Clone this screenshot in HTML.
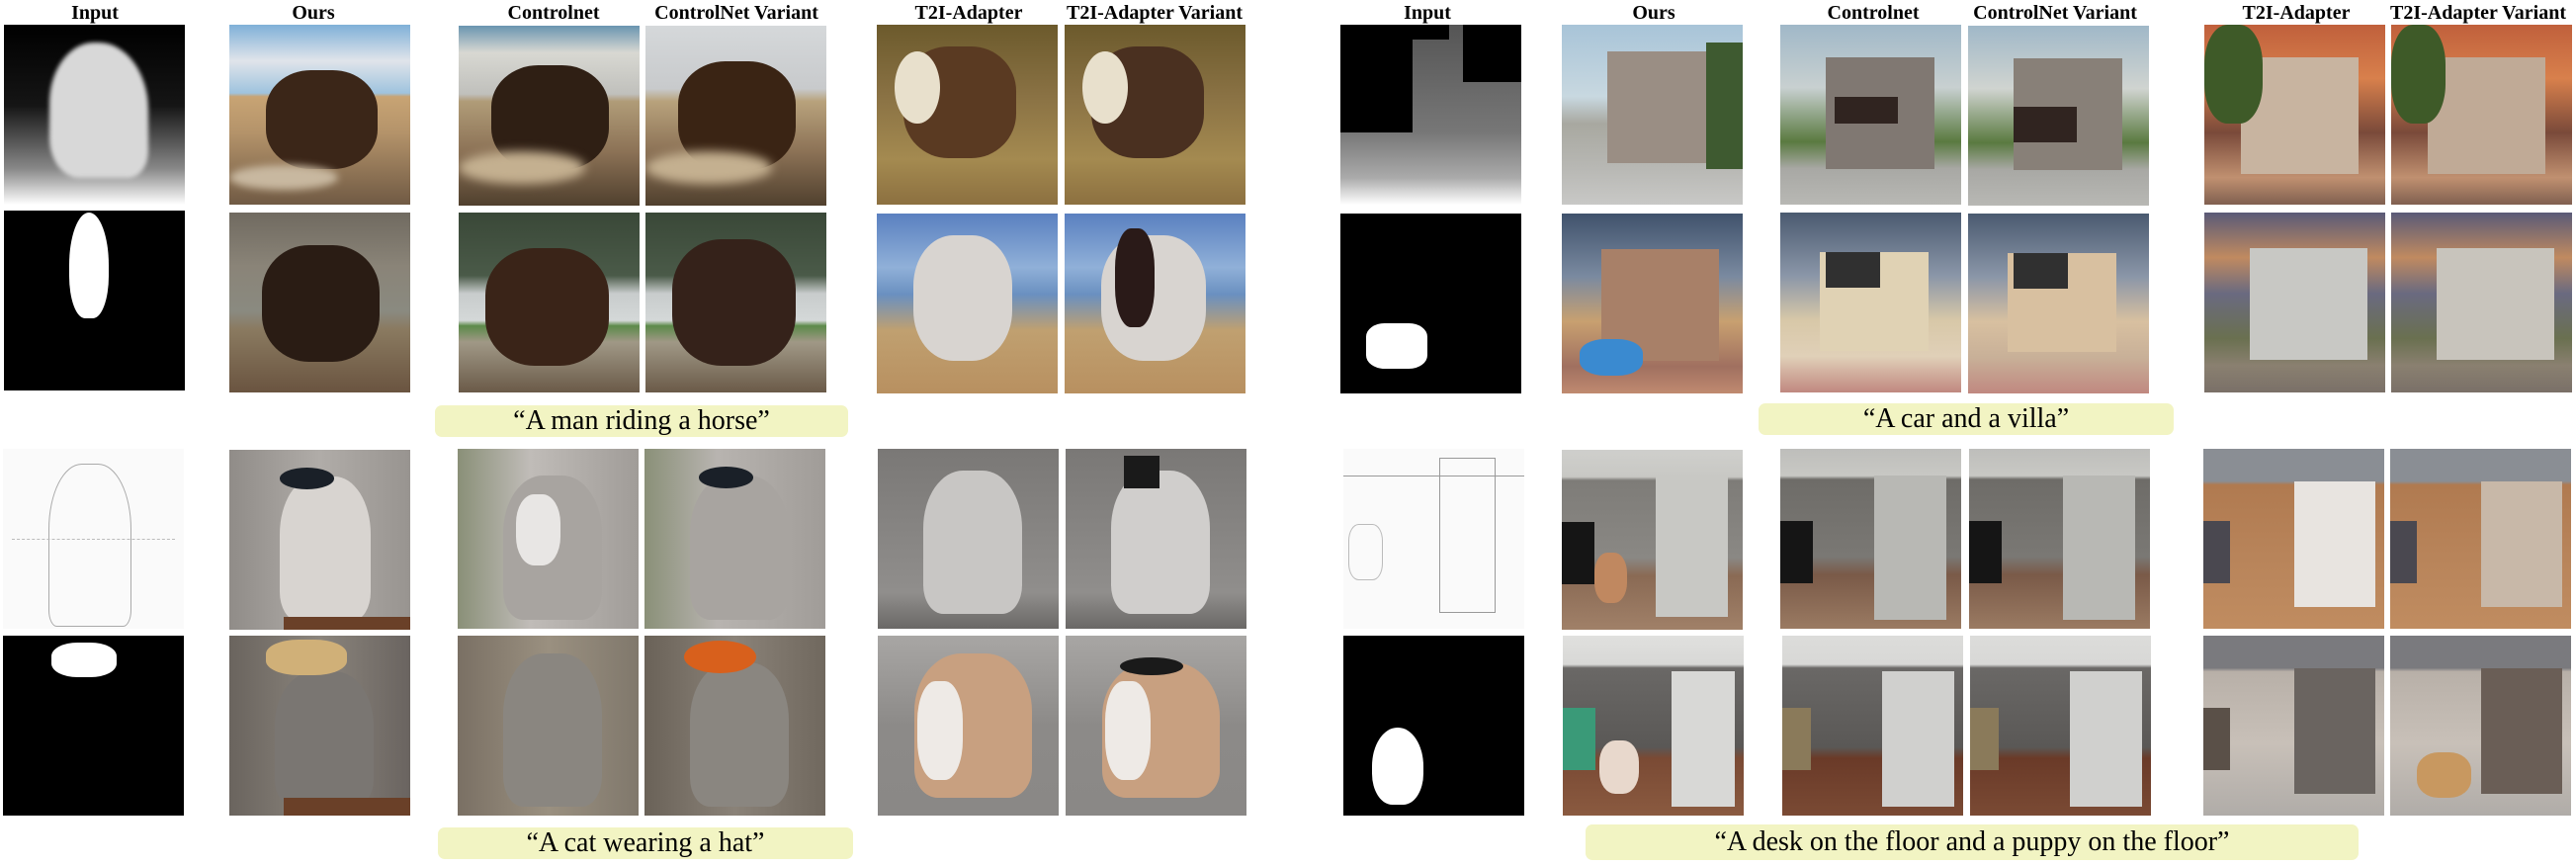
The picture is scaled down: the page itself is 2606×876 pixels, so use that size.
<!DOCTYPE html>
<html><head><meta charset="utf-8"><style>
body{margin:0;background:#fff;width:2606px;height:876px;position:relative;overflow:hidden;font-family:"Liberation Serif",serif}
.t{position:absolute;top:0;height:26px;line-height:26px;font-weight:bold;font-size:20px;transform:translateX(-50%);white-space:nowrap;color:#000}
.im{position:absolute;width:183px;height:182px;overflow:hidden}
.im div{position:absolute}
.cap{position:absolute;background:#f2f4c3;border-radius:7px;font-size:28px;text-align:center;color:#000;white-space:nowrap}
</style></head><body>
<!-- titles -->
<div class="t" style="left:96px">Input</div>
<div class="t" style="left:317px">Ours</div>
<div class="t" style="left:560px">Controlnet</div>
<div class="t" style="left:745px">ControlNet Variant</div>
<div class="t" style="left:980px">T2I-Adapter</div>
<div class="t" style="left:1168px">T2I-Adapter Variant</div>
<div class="t" style="left:1444px">Input</div>
<div class="t" style="left:1673px">Ours</div>
<div class="t" style="left:1895px">Controlnet</div>
<div class="t" style="left:2079px">ControlNet Variant</div>
<div class="t" style="left:2323px">T2I-Adapter</div>
<div class="t" style="left:2507px">T2I-Adapter Variant</div>

<!-- HORSE row 1 -->
<div class="im" style="left:4px;top:25px;background:linear-gradient(#000 0%,#151515 45%,#888 80%,#fff 100%)">
 <div style="left:25%;top:10%;width:55%;height:75%;background:#d8d8d8;border-radius:45% 50% 20% 30%;filter:blur(2px)"></div></div>
<div class="im" style="left:232px;top:25px;background:linear-gradient(#7fb0d8 0%,#e0e4ea 20%,#9fc3de 38%,#c8a474 40%,#b4936a 60%,#705a44 100%)">
 <div style="left:20%;top:25%;width:62%;height:55%;background:#3b2618;border-radius:40%"></div>
 <div style="left:0;top:78%;width:60%;height:14%;background:#c8b8a0;border-radius:50%;filter:blur(4px)"></div></div>
<div class="im" style="left:464px;top:26px;background:linear-gradient(#6a95b0 0%,#d8d8d2 15%,#c0c0bc 38%,#b09c78 42%,#8c7256 70%,#50402e 100%)">
 <div style="left:18%;top:22%;width:65%;height:58%;background:#2f1f14;border-radius:40%"></div>
 <div style="left:0;top:70%;width:70%;height:18%;background:#c4b090;border-radius:50%;filter:blur(5px)"></div></div>
<div class="im" style="left:653px;top:26px;background:linear-gradient(#d5d8da 0%,#c8cacc 35%,#b8a27c 42%,#8c7256 70%,#50402e 100%)">
 <div style="left:18%;top:20%;width:65%;height:60%;background:#3a2414;border-radius:40%"></div>
 <div style="left:0;top:70%;width:70%;height:18%;background:#c4b090;border-radius:50%;filter:blur(5px)"></div></div>
<div class="im" style="left:887px;top:25px;background:linear-gradient(#6c5a2c 0%,#8a7244 40%,#a48a50 75%,#8c7040 100%)">
 <div style="left:15%;top:12%;width:62%;height:62%;background:#5a3a22;border-radius:40%"></div>
 <div style="left:10%;top:15%;width:25%;height:40%;background:#e8e0cc;border-radius:50%"></div></div>
<div class="im" style="left:1077px;top:25px;background:linear-gradient(#6c5a2c 0%,#8a7244 40%,#a48a50 75%,#8c7040 100%)">
 <div style="left:15%;top:12%;width:62%;height:62%;background:#4a3020;border-radius:40%"></div>
 <div style="left:10%;top:15%;width:25%;height:40%;background:#e8e0cc;border-radius:50%"></div></div>
<!-- HORSE row 2 -->
<div class="im" style="left:4px;top:213px;background:#000">
 <div style="left:36%;top:1%;width:22%;height:59%;background:#fff;border-radius:50% 50% 40% 40%"></div></div>
<div class="im" style="left:232px;top:215px;background:linear-gradient(#706a60 0%,#8a8478 30%,#8a8a80 55%,#8a7a60 65%,#6a5440 100%)">
 <div style="left:18%;top:18%;width:65%;height:65%;background:#2a1c14;border-radius:40%"></div></div>
<div class="im" style="left:464px;top:215px;background:linear-gradient(#3a4838 0%,#4a5a48 35%,#c8cccc 45%,#d4d8d8 60%,#5c8a4a 63%,#a09886 72%,#6a5a48 100%)">
 <div style="left:15%;top:20%;width:68%;height:65%;background:#3a2418;border-radius:40%"></div></div>
<div class="im" style="left:653px;top:215px;background:linear-gradient(#3a4838 0%,#4a5a48 35%,#c8cccc 45%,#d4d8d8 60%,#5c8a4a 63%,#a09886 72%,#6a5a48 100%)">
 <div style="left:15%;top:15%;width:68%;height:70%;background:#35221a;border-radius:40%"></div></div>
<div class="im" style="left:887px;top:216px;background:linear-gradient(#5a80c0 0%,#90b0d8 30%,#6a90c0 45%,#c0a070 65%,#b89060 100%)">
 <div style="left:20%;top:12%;width:55%;height:70%;background:#d8d4d0;border-radius:40%"></div></div>
<div class="im" style="left:1077px;top:216px;background:linear-gradient(#5a80c0 0%,#90b0d8 30%,#6a90c0 45%,#c0a070 65%,#b89060 100%)">
 <div style="left:20%;top:12%;width:58%;height:70%;background:#d8d4d0;border-radius:40%"></div>
 <div style="left:28%;top:8%;width:22%;height:55%;background:#2a1a18;border-radius:40%"></div></div>
<div class="cap" style="left:440px;top:410px;width:418px;height:32px;line-height:32px">“A man riding a horse”</div>

<!-- VILLA row 1 -->
<div class="im" style="left:1356px;top:25px;background:linear-gradient(#555 0%,#777 60%,#aaa 85%,#fff 100%)">
 <div style="left:0;top:0;width:40%;height:60%;background:#000"></div>
 <div style="left:40%;top:0;width:20%;height:8%;background:#000"></div>
 <div style="left:68%;top:0;width:32%;height:32%;background:#000"></div></div>
<div class="im" style="left:1580px;top:25px;background:linear-gradient(#a8c4d8 0%,#c8d8e0 40%,#a8a8a0 55%,#b8b8b4 80%,#c8c8c6 100%)">
 <div style="left:25%;top:15%;width:60%;height:62%;background:#9a8e84"></div>
 <div style="left:80%;top:10%;width:20%;height:70%;background:#3e5a30"></div></div>
<div class="im" style="left:1801px;top:25px;background:linear-gradient(#a0b8c8 0%,#c8d0d0 35%,#5a7a40 65%,#a8a8a4 80%,#b8b8b4 100%)">
 <div style="left:25%;top:18%;width:60%;height:62%;background:#807872"></div>
 <div style="left:30%;top:40%;width:35%;height:15%;background:#302420"></div></div>
<div class="im" style="left:1991px;top:26px;background:linear-gradient(#a0b8c8 0%,#d0d4d0 35%,#5a7a40 65%,#a8a8a4 80%,#b8b8b4 100%)">
 <div style="left:25%;top:18%;width:60%;height:62%;background:#888078"></div>
 <div style="left:25%;top:45%;width:35%;height:20%;background:#302420"></div></div>
<div class="im" style="left:2230px;top:25px;background:linear-gradient(#c0603c 0%,#d8804c 30%,#7a4a3a 60%,#c09070 85%,#806050 100%)">
 <div style="left:20%;top:18%;width:65%;height:65%;background:#c8b4a0"></div>
 <div style="left:0;top:0;width:32%;height:55%;background:#3e5a28;border-radius:40%"></div></div>
<div class="im" style="left:2419px;top:25px;background:linear-gradient(#c0603c 0%,#d8804c 30%,#7a4a3a 60%,#c09070 85%,#806050 100%)">
 <div style="left:20%;top:18%;width:65%;height:65%;background:#c0aa96"></div>
 <div style="left:0;top:0;width:30%;height:55%;background:#3e5a28;border-radius:40%"></div></div>
<!-- VILLA row 2 -->
<div class="im" style="left:1356px;top:216px;background:#000">
 <div style="left:14%;top:61%;width:34%;height:25%;background:#fff;border-radius:30%"></div></div>
<div class="im" style="left:1580px;top:216px;background:linear-gradient(#40526c 0%,#7a8aa0 35%,#c8a070 60%,#a07060 85%,#c08a70 100%)">
 <div style="left:22%;top:20%;width:65%;height:62%;background:#a88068"></div>
 <div style="left:10%;top:70%;width:35%;height:20%;background:#3a8ad0;border-radius:40%"></div></div>
<div class="im" style="left:1801px;top:215px;background:linear-gradient(#4a5a70 0%,#8a96a8 35%,#d8c8a8 60%,#e0d0b8 80%,#c08880 100%)">
 <div style="left:22%;top:22%;width:60%;height:55%;background:#e0d2b4"></div>
 <div style="left:25%;top:22%;width:30%;height:20%;background:#303030"></div></div>
<div class="im" style="left:1991px;top:216px;background:linear-gradient(#4a5a70 0%,#8a96a8 35%,#d8c0a0 60%,#c8b098 80%,#c08880 100%)">
 <div style="left:22%;top:22%;width:60%;height:55%;background:#d8c0a0"></div>
 <div style="left:25%;top:22%;width:30%;height:20%;background:#303030"></div></div>
<div class="im" style="left:2230px;top:215px;background:linear-gradient(#5a5a78 0%,#c08a60 25%,#6a6a80 45%,#6a7050 70%,#8a8070 85%,#7a7068 100%)">
 <div style="left:25%;top:20%;width:65%;height:62%;background:#c8c8c4"></div></div>
<div class="im" style="left:2419px;top:215px;background:linear-gradient(#5a5a78 0%,#c08a60 25%,#6a6a80 45%,#6a7050 70%,#8a8070 85%,#7a7068 100%)">
 <div style="left:25%;top:20%;width:65%;height:62%;background:#c8c4bc"></div></div>
<div class="cap" style="left:1779px;top:408px;width:420px;height:32px;line-height:32px">“A car and a villa”</div>

<!-- CAT row 1 -->
<div class="im" style="left:3px;top:454px;background:#fafafa">
 <div style="left:25%;top:8%;width:45%;height:90%;border:1px solid #aaa;border-radius:40% 40% 10% 10%"></div>
 <div style="left:5%;top:50%;width:90%;height:45%;border-top:1px dashed #bbb"></div></div>
<div class="im" style="left:232px;top:455px;background:linear-gradient(90deg,#908c88,#b0aca8 50%,#989490)">
 <div style="left:28%;top:15%;width:50%;height:80%;background:#d8d4d0;border-radius:40% 40% 20% 20%"></div>
 <div style="left:28%;top:10%;width:30%;height:12%;background:#1a2028;border-radius:50%"></div>
 <div style="left:30%;top:93%;width:70%;height:7%;background:#6a4028"></div></div>
<div class="im" style="left:463px;top:454px;background:linear-gradient(90deg,#8a9078,#c0bcb8 40%,#a09c98)">
 <div style="left:25%;top:15%;width:55%;height:80%;background:#a8a4a0;border-radius:40% 40% 20% 20%"></div>
 <div style="left:32%;top:25%;width:25%;height:40%;background:#e8e6e4;border-radius:40%"></div></div>
<div class="im" style="left:652px;top:454px;background:linear-gradient(90deg,#8a9078,#b8b4b0 40%,#a09c98)">
 <div style="left:25%;top:15%;width:55%;height:80%;background:#a8a4a0;border-radius:40% 40% 20% 20%"></div>
 <div style="left:30%;top:10%;width:30%;height:12%;background:#1a2028;border-radius:50%"></div></div>
<div class="im" style="left:888px;top:454px;background:linear-gradient(#7a7876,#908e8c 80%,#6a6866)">
 <div style="left:25%;top:12%;width:55%;height:80%;background:#c8c6c4;border-radius:40% 40% 20% 20%"></div></div>
<div class="im" style="left:1078px;top:454px;background:linear-gradient(#7a7876,#908e8c 80%,#6a6866)">
 <div style="left:25%;top:12%;width:55%;height:80%;background:#d0cecc;border-radius:40% 40% 20% 20%"></div>
 <div style="left:32%;top:4%;width:20%;height:18%;background:#1a1a1a"></div></div>
<!-- CAT row 2 -->
<div class="im" style="left:3px;top:643px;background:#000">
 <div style="left:27%;top:4%;width:36%;height:19%;background:#fff;border-radius:40%"></div></div>
<div class="im" style="left:232px;top:643px;background:linear-gradient(90deg,#6a645e,#8a847c 50%,#6a6460)">
 <div style="left:25%;top:20%;width:55%;height:75%;background:#7a7672;border-radius:40% 40% 20% 20%"></div>
 <div style="left:20%;top:2%;width:45%;height:20%;background:#d0b078;border-radius:40%"></div>
 <div style="left:30%;top:90%;width:70%;height:10%;background:#6a4028"></div></div>
<div class="im" style="left:463px;top:643px;background:linear-gradient(90deg,#7a7064,#9a9080 50%,#80786c)">
 <div style="left:25%;top:10%;width:55%;height:85%;background:#8a8680;border-radius:40% 40% 20% 20%"></div></div>
<div class="im" style="left:652px;top:643px;background:linear-gradient(90deg,#6a6258,#8a8278 50%,#70685e)">
 <div style="left:25%;top:15%;width:55%;height:80%;background:#8a8680;border-radius:40% 40% 20% 20%"></div>
 <div style="left:22%;top:3%;width:40%;height:18%;background:#d8601c;border-radius:50%"></div></div>
<div class="im" style="left:888px;top:643px;background:linear-gradient(#a8a6a4,#8c8a88 50%,#8a8886)">
 <div style="left:20%;top:10%;width:65%;height:80%;background:#c8a080;border-radius:40% 40% 20% 20%"></div>
 <div style="left:22%;top:25%;width:25%;height:55%;background:#eeeae6;border-radius:40%"></div></div>
<div class="im" style="left:1078px;top:643px;background:linear-gradient(#a8a6a4,#8c8a88 50%,#8a8886)">
 <div style="left:20%;top:15%;width:65%;height:75%;background:#c8a080;border-radius:40% 40% 20% 20%"></div>
 <div style="left:22%;top:25%;width:25%;height:55%;background:#eeeae6;border-radius:40%"></div>
 <div style="left:30%;top:12%;width:35%;height:10%;background:#1a1a1a;border-radius:50%"></div></div>
<div class="cap" style="left:443px;top:837px;width:420px;height:32px;line-height:32px">“A cat wearing a hat”</div>

<!-- DESK row 1 -->
<div class="im" style="left:1359px;top:454px;background:#fafafa">
 <div style="left:0;top:15%;width:100%;height:1px;background:#999"></div>
 <div style="left:53%;top:5%;width:30%;height:85%;border:1px solid #999"></div>
 <div style="left:3%;top:42%;width:18%;height:30%;border:1px solid #bbb;border-radius:30%"></div></div>
<div class="im" style="left:1580px;top:455px;background:linear-gradient(#cfcfcc 0%,#c8c8c4 15%,#7e7c78 17%,#8a8884 60%,#8a6a54 70%,#a08068 100%)">
 <div style="left:52%;top:15%;width:40%;height:78%;background:#c8c8c4"></div>
 <div style="left:0;top:40%;width:18%;height:35%;background:#151515"></div>
 <div style="left:18%;top:57%;width:18%;height:28%;background:#c08860;border-radius:40%"></div></div>
<div class="im" style="left:1801px;top:454px;background:linear-gradient(#bebebb 0%,#c8c8c4 15%,#6e6c68 17%,#7a7874 60%,#7a5a48 70%,#9a7a62 100%)">
 <div style="left:52%;top:15%;width:40%;height:80%;background:#b8b8b4"></div>
 <div style="left:0;top:40%;width:18%;height:35%;background:#151515"></div></div>
<div class="im" style="left:1992px;top:454px;background:linear-gradient(#bebebb 0%,#c8c8c4 15%,#6e6c68 17%,#7a7874 60%,#7a5a48 70%,#9a7a62 100%)">
 <div style="left:52%;top:15%;width:40%;height:80%;background:#b8b8b4"></div>
 <div style="left:0;top:40%;width:18%;height:35%;background:#151515"></div></div>
<div class="im" style="left:2229px;top:454px;background:linear-gradient(#8a8e94 0%,#8a8e94 18%,#b07a50 20%,#b8845a 60%,#c08c60 100%)">
 <div style="left:50%;top:18%;width:45%;height:70%;background:#e8e4e0"></div>
 <div style="left:0;top:40%;width:15%;height:35%;background:#4a4850"></div></div>
<div class="im" style="left:2418px;top:454px;background:linear-gradient(#8a8e94 0%,#8a8e94 18%,#b07a50 20%,#b8845a 60%,#c08c60 100%)">
 <div style="left:50%;top:18%;width:45%;height:70%;background:#c8b8a8"></div>
 <div style="left:0;top:40%;width:15%;height:35%;background:#4a4850"></div></div>
<!-- DESK row 2 -->
<div class="im" style="left:1359px;top:643px;background:#000">
 <div style="left:16%;top:51%;width:28%;height:43%;background:#fff;border-radius:50% 50% 40% 40%"></div></div>
<div class="im" style="left:1581px;top:643px;background:linear-gradient(#e0e0de 0%,#d8d8d6 16%,#6a6866 18%,#5a5856 62%,#7a4a34 68%,#8a5a40 100%)">
 <div style="left:60%;top:20%;width:35%;height:75%;background:#d8d8d6"></div>
 <div style="left:0;top:40%;width:18%;height:35%;background:#3a9a78"></div>
 <div style="left:20%;top:58%;width:22%;height:30%;background:#e8d8cc;border-radius:40%"></div></div>
<div class="im" style="left:1803px;top:643px;background:linear-gradient(#dcdcda 0%,#d8d8d6 16%,#6a6866 18%,#5a5856 62%,#6a3a28 68%,#7a4a34 100%)">
 <div style="left:55%;top:20%;width:40%;height:75%;background:#d0d0ce"></div>
 <div style="left:0;top:40%;width:16%;height:35%;background:#8a7a5a"></div></div>
<div class="im" style="left:1993px;top:643px;background:linear-gradient(#dcdcda 0%,#d8d8d6 16%,#6a6866 18%,#5a5856 62%,#6a3a28 68%,#7a4a34 100%)">
 <div style="left:55%;top:20%;width:40%;height:75%;background:#d0d0ce"></div>
 <div style="left:0;top:40%;width:16%;height:35%;background:#8a7a5a"></div></div>
<div class="im" style="left:2229px;top:643px;background:linear-gradient(#7a7a7e 0%,#7a7a7e 18%,#b8b0a8 20%,#c8c0b8 60%,#b0aca8 100%)">
 <div style="left:50%;top:18%;width:45%;height:70%;background:#6a6460"></div>
 <div style="left:0;top:40%;width:15%;height:35%;background:#5a5048"></div></div>
<div class="im" style="left:2418px;top:643px;background:linear-gradient(#7a7a7e 0%,#7a7a7e 18%,#b8b0a8 20%,#c8c0b8 60%,#b0aca8 100%)">
 <div style="left:50%;top:18%;width:45%;height:70%;background:#6a5e56"></div>
 <div style="left:15%;top:65%;width:30%;height:25%;background:#c89860;border-radius:40%"></div></div>
<div class="cap" style="left:1604px;top:834px;width:782px;height:36px;line-height:36px">“A desk on the floor and a puppy on the floor”</div>
</body></html>
